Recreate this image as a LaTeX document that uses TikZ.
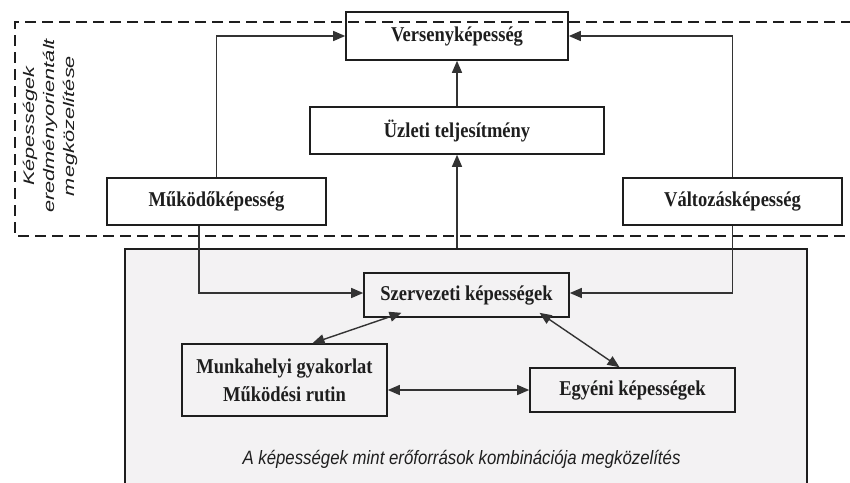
\documentclass[tikz,border=0pt]{standalone}
\usepackage{fontspec}
\setmainfont{Liberation Serif}
\newfontfamily\capfont{Liberation Sans}
\usetikzlibrary{arrows.meta}
\definecolor{bgray}{HTML}{F3F2F3}
\definecolor{lcol}{HTML}{333333}
\definecolor{bcol}{HTML}{1E1E1E}
\newcommand{\tallx}[1]{\scalebox{1}[1.14]{#1}}
\newcommand{\widex}[1]{\scalebox{1.42}[1]{#1}}
\begin{document}
\begin{tikzpicture}[x=1pt,y=-1pt,
  box/.style={draw=bcol,line width=1.6pt,inner sep=0pt,font=\fontsize{18.5}{28}\selectfont\bfseries,text=bcol,align=center},
  arr/.style={draw=lcol,line width=1.4pt,-{Triangle[length=12pt,width=10pt]}},
  darr/.style={draw=lcol,line width=1.4pt,{Triangle[length=12pt,width=10pt]}-{Triangle[length=12pt,width=10pt]}},
  capt/.style={font=\capfont\itshape\fontsize{16.8}{20}\selectfont,text=bcol},
  vlab/.style={font=\capfont\itshape\fontsize{15.3}{20}\selectfont,text=bcol}]
\useasboundingbox (0,0) rectangle (850,482);
\fill[white] (0,0) rectangle (850,482);
% resource box
\node[draw=bcol,line width=1.4pt,fill=bgray,minimum width=682pt,minimum height=241pt,inner sep=0pt] (res) at (466,369.5) {};
% nodes
\node[box,minimum width=222pt,minimum height=48pt] (ver) at (457,36) {\tallx{Versenyképesség}};
\node[box,minimum width=294pt,minimum height=47pt] (uzl) at (457,130.5) {\tallx{Üzleti teljesítmény}};
\node[box,minimum width=219pt,minimum height=47pt] (mukk) at (216.5,201.5) {\tallx{Működőképesség}};
\node[box,minimum width=219pt,minimum height=47pt] (valt) at (732.5,201.5) {\tallx{Változásképesség}};
\node[box,minimum width=205pt,minimum height=44pt] (szerv) at (466.5,295) {\tallx{Szervezeti képességek}};
\node[box,minimum width=205pt,minimum height=72pt] (munk) at (284.5,380) {\tallx{Munkahelyi gyakorlat}\\\tallx{Működési rutin}};
\node[box,minimum width=205pt,minimum height=44pt] (egy) at (632.5,390) {\tallx{Egyéni képességek}};
% dashed region
\draw[bcol,line width=1.5pt,dash pattern=on 11pt off 6pt] (852,22) -- (15,22) -- (15,236) -- (852,236);
\node[vlab,rotate=90,align=center] (lab) at (50,126) {\widex{Képességek}\\\widex{eredményorientált}\\\widex{megközelítése}};
\node[capt] (cap) at (461.5,459) {\scalebox{1}[1.15]{A képességek mint erőforrások kombinációja megközelítés}};
% connectors
\draw[arr] (mukk.north) |- (ver.west);
\draw[arr] (valt.north) |- (ver.east);
\draw[arr] (uzl.north) -- (ver.south);
\draw[arr] (uzl.south |- res.north) -- (uzl.south);
\draw[arr] ([xshift=-17.5pt]mukk.south) |- ([yshift=2pt]szerv.west);
\draw[arr] (valt.south) |- ([yshift=2pt]szerv.east);
\draw[darr] ([xshift=28pt]munk.north) -- ([xshift=-65pt,yshift=5pt]szerv.south);
\draw[darr] ([xshift=73pt,yshift=5pt]szerv.south) -- ([xshift=-13pt]egy.north);
\draw[darr] (munk.east |- egy.west) -- (egy.west);
\end{tikzpicture}
\end{document}
